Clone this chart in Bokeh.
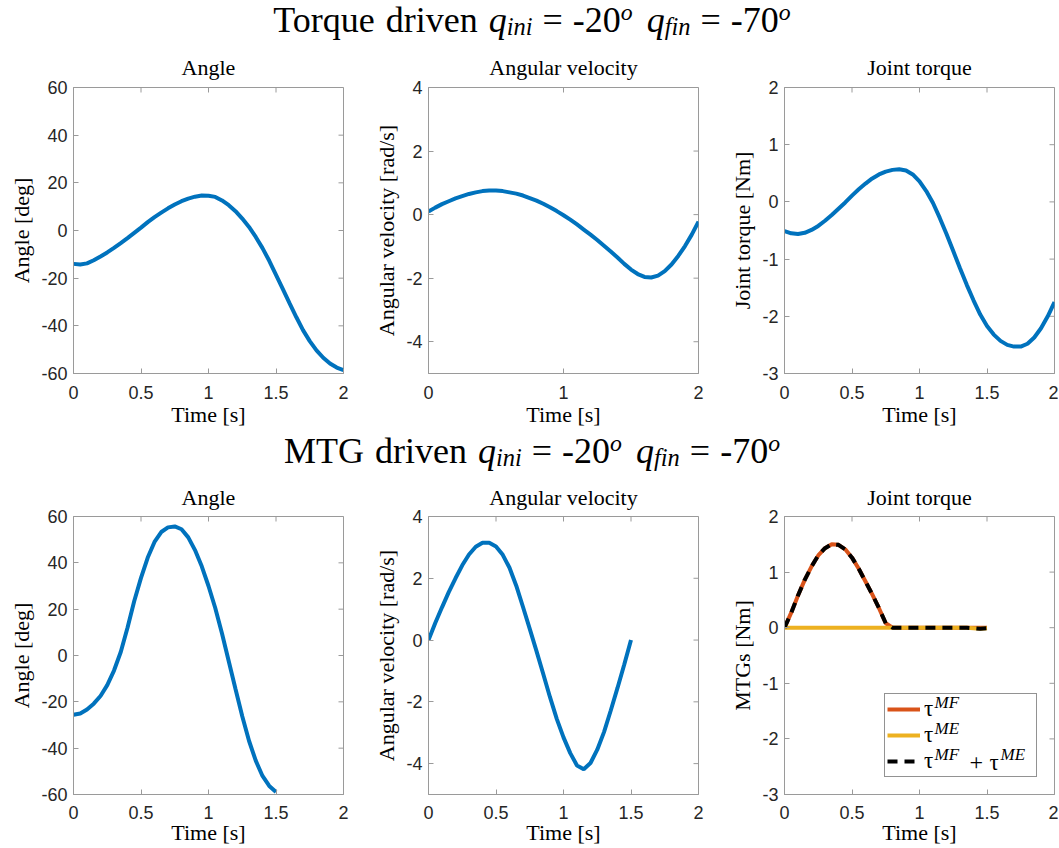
from bokeh.plotting import figure
from bokeh.layouts import column, row
from bokeh.models import Div, FixedTicker, Legend, LegendItem, Range1d, Label
from bokeh.embed import file_html
from bokeh.resources import INLINE

# ---------------- data ----------------
t_td = [0.0, 0.05, 0.1, 0.15, 0.2, 0.25, 0.3, 0.35, 0.4, 0.45, 0.5, 0.55, 0.6, 0.65, 0.7,
        0.75, 0.8, 0.85, 0.9, 0.95, 1.0, 1.05, 1.1, 1.15, 1.2, 1.25, 1.3, 1.35, 1.4, 1.45,
        1.5, 1.55, 1.6, 1.65, 1.7, 1.75, 1.8, 1.85, 1.9, 1.95, 2.0]
angle_td = [-14.0, -14.3, -13.8, -12.5, -10.9, -9.2, -7.3, -5.3, -3.2, -1.0, 1.2, 3.5, 5.6,
            7.5, 9.3, 10.9, 12.3, 13.4, 14.2, 14.7, 14.6, 14.1, 12.6, 10.6, 8.1, 5.0, 1.5,
            -2.7, -7.4, -12.7, -18.6, -24.5, -30.5, -36.3, -41.8, -46.4, -50.3, -53.4,
            -55.8, -57.5, -58.6]
vel_td = [0.10, 0.22, 0.33, 0.42, 0.51, 0.58, 0.65, 0.70, 0.74, 0.76, 0.76, 0.74, 0.70, 0.66,
          0.60, 0.52, 0.44, 0.34, 0.23, 0.11, -0.02, -0.16, -0.31, -0.47, -0.63, -0.80, -0.98,
          -1.16, -1.35, -1.55, -1.73, -1.87, -1.96, -1.98, -1.92, -1.78, -1.57, -1.30, -0.99,
          -0.63, -0.22]
torque_td = [-0.51, -0.55, -0.56, -0.54, -0.49, -0.42, -0.33, -0.23, -0.12, -0.01, 0.11, 0.22,
             0.32, 0.41, 0.48, 0.53, 0.56, 0.57, 0.55, 0.48, 0.36, 0.19, -0.02, -0.28, -0.56,
             -0.86, -1.16, -1.45, -1.72, -1.97, -2.17, -2.32, -2.43, -2.50, -2.53, -2.53,
             -2.48, -2.37, -2.21, -2.00, -1.75]

t_mtg = [0.0, 0.05, 0.1, 0.15, 0.2, 0.25, 0.3, 0.35, 0.4, 0.45, 0.5, 0.55, 0.6, 0.65, 0.7,
         0.75, 0.8, 0.85, 0.9, 0.95, 1.0, 1.05, 1.1, 1.15, 1.2, 1.25, 1.3, 1.35, 1.4, 1.45, 1.5]
angle_mtg = [-25.6, -25.0, -23.3, -20.8, -17.5, -12.8, -6.5, 1.5, 12.0, 23.5, 33.5, 42.3, 49.0,
             53.3, 55.3, 55.7, 54.5, 51.0, 45.5, 38.5, 30.0, 20.5, 9.5, -2.5, -14.5, -26.2,
             -36.8, -45.4, -52.0, -56.3, -58.9]
vel_mtg = [0.0, 0.55, 1.06, 1.55, 2.0, 2.42, 2.77, 3.02, 3.15, 3.15, 3.03, 2.76, 2.34, 1.76,
           1.07, 0.36, -0.36, -1.1, -1.85, -2.55, -3.15, -3.66, -4.06, -4.18, -3.98, -3.55,
           -2.98, -2.28, -1.55, -0.79, 0.0]
tau_mf = [0.0, 0.27, 0.58, 0.86, 1.10, 1.30, 1.43, 1.50, 1.49, 1.41, 1.26, 1.06, 0.83, 0.60,
          0.35, 0.08, 0.0, 0.0, 0.0, 0.0, 0.0, 0.0, 0.0, 0.0, 0.0, 0.0, 0.0, 0.0, 0.0, 0.0, 0.0]
tau_me = [0.0, 0.0, 0.0, 0.0, 0.0, 0.0, 0.0, 0.0, 0.0, 0.0, 0.0, 0.0, 0.0, 0.0, 0.0, 0.0, 0.0,
          0.0, 0.0, 0.0, 0.0, 0.0, 0.0, 0.0, 0.0, 0.0, 0.0, 0.0, -0.01, -0.02, -0.01]
tau_sum = [0.0, 0.27, 0.58, 0.86, 1.10, 1.30, 1.43, 1.50, 1.49, 1.41, 1.26, 1.06, 0.83, 0.60,
           0.35, 0.08, 0.0, 0.0, 0.0, 0.0, 0.0, 0.0, 0.0, 0.0, 0.0, 0.0, 0.0, 0.0, -0.01, -0.02,
           -0.01]

x_ticks_half = [0, 0.5, 1, 1.5, 2]
x_labels_half = ["0", "0.5", "1", "1.5", "2"]
x_ticks_one = [0, 1, 2]
x_labels_one = ["0", "1", "2"]
angle_ticks = [-60, -40, -20, 0, 20, 40, 60]
angle_labels = ["-60", "-40", "-20", "0", "20", "40", "60"]
vel_ticks = [-4, -2, 0, 2, 4]
vel_labels = ["-4", "-2", "0", "2", "4"]
torque_ticks = [-3, -2, -1, 0, 1, 2]
torque_labels = ["-3", "-2", "-1", "0", "1", "2"]

title_top = ("Torque driven", "-20", "-70")
title_bottom = ("MTG driven", "-20", "-70")
tau = "\u03c4"
sup_mf = "MF"
sup_me = "ME"

# ---------------- styling ----------------
BLUE = "#0072BD"
ORANGE = "#D95319"
YELLOW = "#EDB120"
AX = "#9a9a9a"
TXT = "#262626"
SERIF = "Liberation Serif"
SANS = "Liberation Sans"
FW = 270
TICK = 5


def make_fig(title, ylabel, ylim, xt, xl, yt, yl, bl, br, bt, bb, fh, lab_so, ax_so, tstand):
    p = figure(frame_width=FW, frame_height=fh, x_range=Range1d(0, 2),
               y_range=Range1d(ylim[0], ylim[1]), output_backend="svg",
               toolbar_location=None, min_border_left=bl, min_border_right=br,
               min_border_top=bt, min_border_bottom=bb, title=title)
    p.title.text_font = SERIF
    p.title.text_font_size = "22px"
    p.title.text_font_style = "normal"
    p.title.text_color = "#000000"
    p.title.align = "center"
    p.title.standoff = tstand
    p.xgrid.visible = False
    p.ygrid.visible = False
    p.outline_line_color = AX
    p.outline_line_width = 1
    p.background_fill_color = "white"
    p.border_fill_color = "white"

    for ax, ticks, labels, lab in ((p.xaxis[0], xt, xl, "Time [s]"), (p.yaxis[0], yt, yl, ylabel)):
        ax.ticker = FixedTicker(ticks=ticks)
        ax.major_label_overrides = {float(k): v for k, v in zip(ticks, labels)}
        ax.axis_label = lab
        ax.axis_label_text_font = SERIF
        ax.axis_label_text_font_size = "22px"
        ax.axis_label_text_font_style = "normal"
        ax.axis_label_text_color = "#000000"
        ax.major_label_text_font = SANS
        ax.major_label_text_font_size = "18px"
        ax.major_label_text_color = TXT
        ax.axis_line_color = AX
        ax.major_tick_line_color = AX
        ax.major_tick_in = TICK
        ax.major_tick_out = 0
        ax.minor_tick_line_color = None
    p.xaxis[0].major_label_standoff = lab_so
    p.xaxis[0].axis_label_standoff = ax_so
    p.yaxis[0].major_label_standoff = 6
    p.yaxis[0].axis_label_standoff = 4

    # inward tick marks on the top and right edges of the box (MATLAB style)
    ylo, yhi = ylim
    dy = TICK * (yhi - ylo) / fh
    dx = TICK * 2.0 / FW
    p.segment(x0=list(xt), y0=[yhi] * len(xt), x1=list(xt), y1=[yhi - dy] * len(xt),
              line_color=AX, line_width=1)
    p.segment(x0=[2.0] * len(yt), y0=list(yt), x1=[2.0 - dx] * len(yt), y1=list(yt),
              line_color=AX, line_width=1)
    return p


def title_div(parts, h, shift):
    name, a, b = parts
    sub = "font-size:0.68em;vertical-align:-0.12em;line-height:0;font-style:italic"
    sup = "font-size:0.66em;vertical-align:0.5em;line-height:0;font-style:italic"
    eq = '<span style="margin:0 10px">=</span>'
    html = (
        f'<div style="font-family:\'{SERIF}\';font-size:36px;line-height:36px;'
        f'text-align:center;width:1058px;padding-left:6px;box-sizing:border-box;'
        f'position:relative;top:{shift}px;word-spacing:2px;'
        f'white-space:nowrap;color:#000">{name} <i>q</i><span style="{sub}">ini</span>'
        f'{eq}{a}<span style="{sup}">o</span><span style="margin-left:14px"><i>q</i></span>'
        f'<span style="{sub}">fin</span>{eq}{b}<span style="{sup}">o</span></div>'
    )
    return Div(text=html, width=1058, height=h, margin=(0, 0, 0, 0))


# ---------------- row 1 : torque driven ----------------
FH1 = 286
a1 = make_fig("Angle", "Angle [deg]", (-60, 60), x_ticks_half, x_labels_half,
              angle_ticks, angle_labels, 73, 12, 42, 60, FH1, 12, 0, 16)
a1.line(t_td, angle_td, line_color=BLUE, line_width=4)
v1 = make_fig("Angular velocity", "Angular velocity [rad/s]", (-5, 4), x_ticks_one, x_labels_one,
              vel_ticks, vel_labels, 73, 10, 42, 60, FH1, 12, 0, 16)
v1.line(t_td, vel_td, line_color=BLUE, line_width=4)
j1 = make_fig("Joint torque", "Joint torque [Nm]", (-3, 2), x_ticks_half, x_labels_half,
              torque_ticks, torque_labels, 76, 4, 42, 60, FH1, 12, 0, 16)
j1.line(t_td, torque_td, line_color=BLUE, line_width=4)

# ---------------- row 2 : MTG driven ----------------
FH2 = 278
a2 = make_fig("Angle", "Angle [deg]", (-60, 60), x_ticks_half, x_labels_half,
              angle_ticks, angle_labels, 73, 12, 40, 55, FH2, 11, -2, 14)
a2.line(t_mtg, angle_mtg, line_color=BLUE, line_width=4)
v2 = make_fig("Angular velocity", "Angular velocity [rad/s]", (-5, 4), x_ticks_half, x_labels_half,
              vel_ticks, vel_labels, 73, 10, 40, 55, FH2, 11, -2, 14)
v2.line(t_mtg, vel_mtg, line_color=BLUE, line_width=4)
j2 = make_fig("Joint torque", "MTGs [Nm]", (-3, 2), x_ticks_half, x_labels_half,
              torque_ticks, torque_labels, 76, 4, 40, 55, FH2, 11, -2, 14)
r_mf = j2.line(t_mtg, tau_mf, line_color=ORANGE, line_width=4)
r_me = j2.line(t_mtg, tau_me, line_color=YELLOW, line_width=4)
r_sum = j2.line(t_mtg, tau_sum, line_color="black", line_width=4, line_dash="10 7")

LEG_X, LEG_Y, PAD, ROW, GW, STAND = 100, 17, 2, 26, 33, 4
legend = Legend(items=[LegendItem(label=tau, renderers=[r_mf]),
                       LegendItem(label=tau, renderers=[r_me]),
                       LegendItem(label=tau, renderers=[r_sum])],
                location=(LEG_X, LEG_Y))
legend.label_text_font = SERIF
legend.label_text_font_size = "23px"
legend.label_text_color = "#000000"
legend.label_height = ROW
legend.glyph_height = ROW
legend.glyph_width = GW
legend.label_standoff = STAND
legend.label_width = 110
legend.spacing = 0
legend.padding = PAD
legend.margin = 0
legend.border_line_color = TXT
legend.border_line_width = 1
legend.background_fill_alpha = 0.0
j2.add_layout(legend, "center")

# superscripts of the legend entries (screen units relative to the frame)
top = LEG_Y + 2 * PAD + 3 * ROW
centers = [top - PAD - ROW / 2 - i * ROW for i in range(3)]
x_tau = LEG_X + PAD + GW + STAND
x_sup = x_tau + 11


def add_text(txt, x, y, size, italic):
    j2.add_layout(Label(x=x, y=y, x_units="screen", y_units="screen", text=txt,
                        text_font=SERIF, text_font_size=size,
                        text_font_style="italic" if italic else "normal",
                        text_baseline="middle", text_align="left", text_color="#000000"))


add_text(sup_mf, x_sup, centers[0] + 8, "17px", True)
add_text(sup_me, x_sup, centers[1] + 8, "17px", True)
add_text(sup_mf, x_sup, centers[2] + 8, "17px", True)
add_text("+", x_sup + 35, centers[2], "24px", False)
add_text(tau, x_sup + 55, centers[2], "23px", False)
add_text(sup_me, x_sup + 66, centers[2] + 8, "17px", True)

layout = column(
    title_div(title_top, 44, 2),
    row(a1, v1, j1),
    title_div(title_bottom, 42, 0),
    row(a2, v2, j2),
)

open("out.html", "w").write(file_html(layout, INLINE))
